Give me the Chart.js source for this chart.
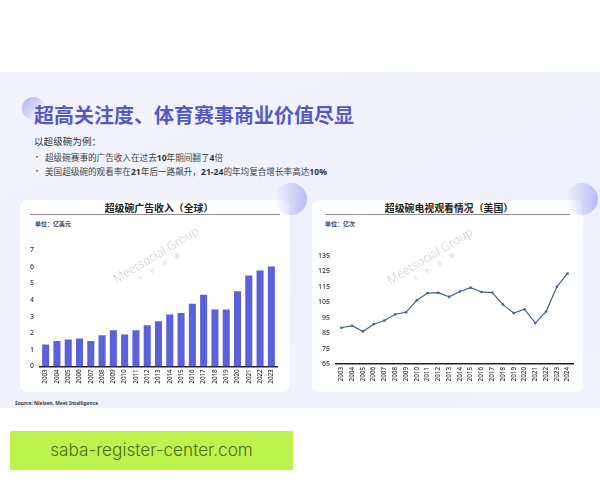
<!DOCTYPE html>
<html lang="zh-CN">
<head>
<meta charset="utf-8">
<script src="https://cdn.jsdelivr.net/npm/chart.js@4"></script>
<style>
html, body { margin: 0; padding: 0; background: #fff; }
body { width: 600px; height: 480px; position: relative; overflow: hidden; font-family: "Noto Sans CJK SC", "Noto Sans", sans-serif; }
div, canvas { position: absolute; white-space: nowrap; }
#slide { left: 0; top: 72px; width: 600px; height: 336px; background: linear-gradient(160deg, #f3f4fe 0%, #eef0fd 55%, #f1f3fe 100%); }
.card { top: 200px; height: 192px; background: #fff; border-radius: 7px; }
.dot { border-radius: 50%; background: linear-gradient(90deg, rgba(190,192,245,0) 0%, #b9bcf4 100%); }
#head { left: 34px; top: 100px; font-size: 20px; line-height: 30px; font-weight: 700; color: #5459c6; }
#sub { left: 34px; top: 133px; font-size: 9.6px; line-height: 16px; color: #333; }
.item { left: 45px; font-size: 8.6px; line-height: 12px; color: #444; }
.item b { font-family: "Noto Sans", sans-serif; color: #333; }
.bullet { left: 33px; font-size: 8px; line-height: 12px; color: #444; }
.ctitle { top: 200px; font-size: 9.9px; line-height: 16px; font-weight: 700; color: #222; transform: translateX(-50%); }
.rule { top: 214px; height: 1px; background: #8d8d93; }
.unit { top: 219px; font-size: 6px; line-height: 9px; font-weight: 700; color: #444; }
.mark { font-family: "Noto Sans", sans-serif; font-size: 12.2px; line-height: 16px; font-weight: 300; color: #cfcfd4; transform: translate(-50%, -50%) rotate(-31deg); }
.mark2 { font-size: 5.5px; line-height: 8px; letter-spacing: 9px; color: #d4d4d8; transform: translate(-50%, -50%) rotate(-31deg); }
#source { left: 15px; top: 400px; font-family: "Noto Sans", sans-serif; font-size: 4.9px; line-height: 7px; font-weight: 700; color: #3a3a44; }
#banner { left: 10px; top: 431px; width: 283px; height: 39px; background: #bef24c; }
#bannerText { left: 0; top: 0; width: 283px; text-align: center; font-family: Inter, sans-serif; font-size: 17.2px; font-weight: 300; line-height: 38px; color: #4f6d1c; }
</style>
</head>
<body>
<div id="slide"></div>
<div class="dot" style="left:22px;top:97px;width:23px;height:23px;transform:rotate(-135deg)"></div>
<div id="head">超高关注度、体育赛事商业价值尽显</div>
<div id="sub">以超级碗为例&#xFF1A;</div>
<div class="bullet" style="top:151px">•</div>
<div class="item" style="top:151px">超级碗赛事的广告收入在过去<b>10</b>年期间翻了<b>4</b>倍</div>
<div class="bullet" style="top:165px">•</div>
<div class="item" style="top:165px">美国超级碗的观看率在<b>21</b>年后一路飙升&#xFF0C;<b>21-24</b>的年均复合增长率高达<b>10%</b></div>

<div class="card" style="left:20px;width:270px"></div>
<div class="card" style="left:312px;width:271px"></div>
<div class="dot" style="left:275px;top:183px;width:32px;height:32px"></div>
<div class="dot" style="left:566px;top:183px;width:32px;height:32px"></div>

<div class="ctitle" style="left:159px">超级碗广告收入&#xFF08;全球&#xFF09;</div>
<div class="rule" style="left:30px;width:250px"></div>
<div class="unit" style="left:35px">单位&#xFF1A;亿美元</div>
<div class="ctitle" style="left:449px">超级碗电视观看情况&#xFF08;美国&#xFF09;</div>
<div class="rule" style="left:325px;width:245px"></div>
<div class="unit" style="left:325px">单位&#xFF1A;亿次</div>

<canvas id="chartAds" style="left:20px;top:240px"></canvas>
<canvas id="chartViews" style="left:312px;top:240px"></canvas>

<div class="mark" style="left:156px;top:255px">Meetsocial Group</div>
<div class="mark2" style="left:162px;top:265px">飞书深诺</div>
<div class="mark" style="left:430px;top:256px">Meetsocial Group</div>
<div class="mark2" style="left:437px;top:265px">飞书深诺</div>

<div id="source">Source: Nielsen, Meet Intelligence</div>
<div id="banner"><div id="bannerText">saba-register-center.com</div></div>

<script>
var yearsAds = ["2003","2004","2005","2006","2007","2008","2009","2010","2011","2012","2013","2014","2015","2016","2017","2018","2019","2020","2021","2022","2023"];
var valuesAds = [1.3,1.5,1.6,1.65,1.5,1.85,2.15,1.9,2.15,2.45,2.7,3.1,3.2,3.75,4.3,3.4,3.4,4.5,5.45,5.75,6.0];

var yearsViews = ["2003","2004","2005","2006","2007","2008","2009","2010","2011","2012","2013","2014","2015","2016","2017","2018","2019","2020","2021","2022","2023","2024"];
var valuesViews = [88.5,89.8,86,90.8,93.2,97.2,98.5,106.3,111,111.2,108.5,112,114.5,111.7,111.3,103.5,98,100.5,91.5,99,115,123.7];

//========== shared axes
function axes(yMin, yMax, yStep, yWidth, xHeight) {
    return {
        x: {
            offset: true,
            grid: { display: false, drawTicks: false },
            border: { display: true, color: '#222', width: 1.4 },
            ticks: { color: '#333', font: { size: 6.3, family: 'Noto Sans', weight: '500' }, minRotation: 90, maxRotation: 90, autoSkip: false, padding: 3 },
            afterFit: function (scale) { scale.height = xHeight; }
        },
        y: {
            min: yMin,
            max: yMax,
            grid: { display: false, drawTicks: false },
            border: { display: false },
            ticks: { stepSize: yStep, color: '#333', font: { size: 7, family: 'Noto Sans', weight: '500' }, padding: 6 },
            afterFit: function (scale) { scale.width = yWidth; }
        }
    };
}

//========== ads bars
var canvasAds = document.getElementById('chartAds');
canvasAds.width = 270;
canvasAds.height = 152;
new Chart(canvasAds, {
    type: 'bar',
    data: {
        labels: yearsAds,
        datasets: [{ data: valuesAds, backgroundColor: '#5b61da', barThickness: 6.4 }]
    },
    options: {
        responsive: false,
        animation: false,
        layout: { padding: { top: 10, right: 13, bottom: 0, left: 0 } },
        plugins: { legend: { display: false }, tooltip: { enabled: false } },
        scales: axes(0, 7, 1, 20, 25.7)
    }
});

//========== views line
var canvasViews = document.getElementById('chartViews');
canvasViews.width = 271;
canvasViews.height = 152;
new Chart(canvasViews, {
    type: 'line',
    data: {
        labels: yearsViews,
        datasets: [{
            data: valuesViews,
            borderColor: '#44618f',
            borderWidth: 1.2,
            pointRadius: 1.3,
            pointBackgroundColor: '#44618f',
            pointBorderWidth: 0,
            tension: 0
        }]
    },
    options: {
        responsive: false,
        animation: false,
        layout: { padding: { top: 16, right: 10, bottom: 0, left: 0 } },
        plugins: { legend: { display: false }, tooltip: { enabled: false } },
        scales: axes(65, 135, 10, 24, 28)
    }
});
</script>
</body>
</html>
